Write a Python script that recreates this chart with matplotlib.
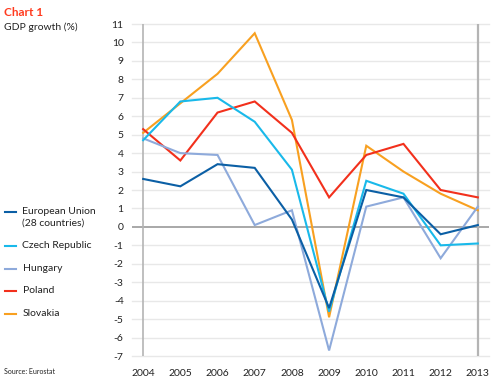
import matplotlib

matplotlib.use("Agg")
import matplotlib.pyplot as plt  # noqa: E402
from matplotlib.lines import Line2D  # noqa: E402

plt.rcParams["font.family"] = ["Lato", "DejaVu Sans"]

years = list(range(2004, 2014))
eu = [2.6, 2.2, 3.4, 3.2, 0.4, -4.4, 2.0, 1.6, -0.4, 0.1]
czech = [4.7, 6.8, 7.0, 5.7, 3.1, -4.6, 2.5, 1.8, -1.0, -0.9]
hungary = [4.8, 4.0, 3.9, 0.1, 0.9, -6.7, 1.1, 1.6, -1.7, 1.1]
poland = [5.3, 3.6, 6.2, 6.8, 5.1, 1.6, 3.9, 4.5, 2.0, 1.6]
slovakia = [5.1, 6.7, 8.3, 10.5, 5.8, -4.9, 4.4, 3.0, 1.8, 0.9]

series = [
    ("European Union\n(28 countries)", eu, "#0b5fa5"),
    ("Czech Republic", czech, "#19b9ea"),
    ("Hungary", hungary, "#8eaadb"),
    ("Poland", poland, "#f2301c"),
    ("Slovakia", slovakia, "#f8a020"),
]
y_ticks = list(range(-7, 12))

TEXT = "#222222"

fig = plt.figure(figsize=(5.0, 3.91), dpi=100)
ax = fig.add_axes([0.264, 0.0895, 0.714, 0.8491])
ax.set_xlim(2003.70, 2013.30)
ax.set_ylim(-7, 11)

for y in y_ticks:
    if y == 0:
        continue
    ax.axhline(y, color="#e8e8e8", linewidth=1.0, zorder=0, clip_on=False)
ax.axhline(0, color="#a8a8a8", linewidth=1.4, zorder=1)
ax.axvline(2004, color="#b4b4b4", linewidth=1.2, zorder=1)
ax.axvline(2013, color="#b4b4b4", linewidth=1.6, zorder=1)

# draw order: Hungary at the back, EU on top
for idx in [2, 4, 3, 1, 0]:
    label, vals, color = series[idx]
    ax.plot(years, vals, color=color, linewidth=1.5, zorder=3 + (4 - idx),
            solid_joinstyle="miter")

for s in ax.spines.values():
    s.set_visible(False)
ax.set_yticks(y_ticks)
ax.set_yticklabels([str(v) for v in y_ticks])
ax.set_xticks(years)
ax.set_xticklabels([str(v) for v in years])
ax.tick_params(axis="both", length=0, labelsize=7.5, colors=TEXT)
ax.tick_params(axis="y", pad=6)
ax.tick_params(axis="x", pad=9)

fig.text(0.008, 0.982, "Chart 1", ha="left", va="top", fontsize=8.5,
         fontweight="bold", color="#ff3b1f")
fig.text(0.008, 0.943, "GDP growth (%)", ha="left", va="top", fontsize=7.5,
         color=TEXT)

legend_y = [212, 246, 269, 291, 314]
for (label, vals, color), py in zip(series, legend_y):
    fy = 1 - py / 391
    fig.add_artist(Line2D([0.010, 0.032], [fy, fy], color=color, linewidth=1.5,
                          transform=fig.transFigure))
    fig.text(0.045, fy + 0.012, label, ha="left", va="top", fontsize=7.5,
             color=TEXT, linespacing=1.35)

fig.text(0.008, 1 - 372 / 391, "Source: Eurostat", ha="left", va="center",
         fontsize=5, color=TEXT)

fig.savefig("out.png", dpi=100)
